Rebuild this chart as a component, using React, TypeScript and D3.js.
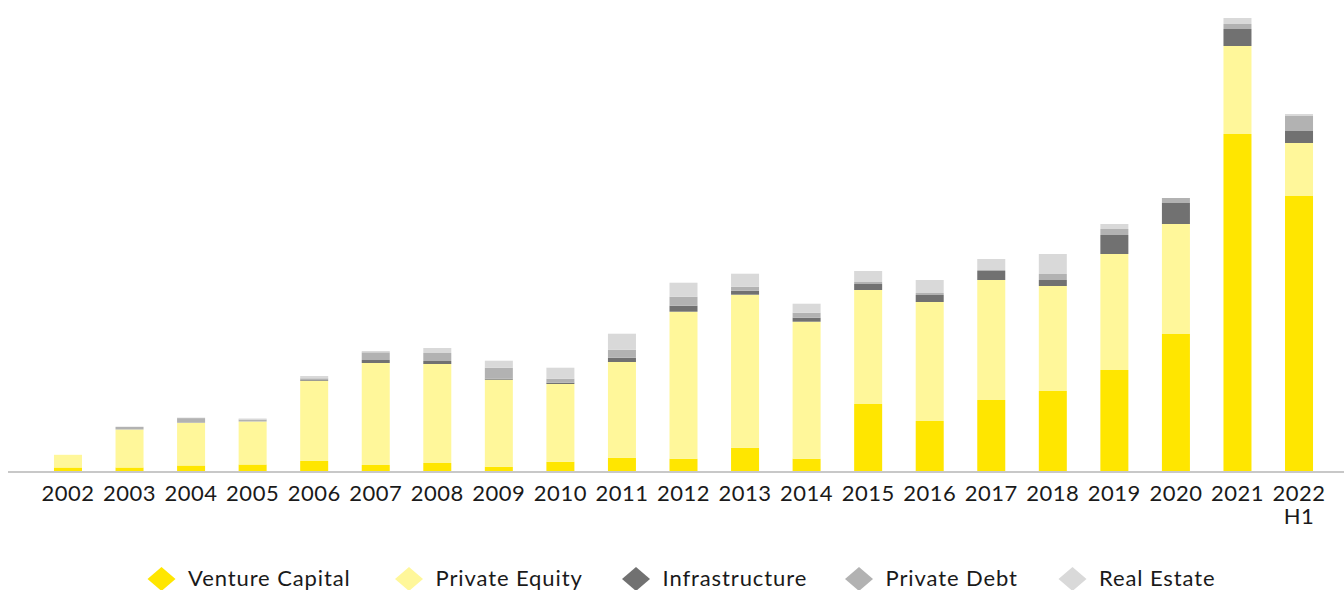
import React from "react";
import * as d3 from "d3";

const years = ["2002","2003","2004","2005","2006","2007","2008","2009","2010","2011","2012","2013","2014","2015","2016","2017","2018","2019","2020","2021","2022 H1"];
const ventureCapital = [3.5,3.5,5.5,6.5,10,6,8,4.3,9.3,13.3,12.3,23.3,12.3,67,50,71,80,101,137,337,275];
const privateEquity = [12.7,38,42.7,43,80.3,102,99,87,77.7,95.7,147,153,137,114,119,120,105,116,110,88,53];
const infrastructure = [0,0,0,0,0.7,3,3,1,1.3,4.3,6,4,4,6,7,9,6,19,21,17,12];
const privateDebt = [0,2.7,4.7,2,1.7,7.7,8,11,4,8,9,4,5,2,2,1,6,6,5,5,15];
const realEstate = [0,0,0.5,1,2.3,1.3,5,7,11,16,14,13,9,11,13,11,20,5,0,6,2];

const seriesNames = ["Venture Capital","Private Equity","Infrastructure","Private Debt","Real Estate"];
const seriesKeys = ["vc","pe","infra","pd","re"];
const colors = ["#FFE600","#FFF79A","#717171","#B2B2B2","#D9D9D9"];

const W = 1344, H = 590;
const baseY = 471;
const font = "Lato, 'Open Sans', sans-serif";

export default function App() {
  const rows = years.map((y, i) => ({
    year: y,
    vc: ventureCapital[i],
    pe: privateEquity[i],
    infra: infrastructure[i],
    pd: privateDebt[i],
    re: realEstate[i],
  }));
  const stack = d3.stack<any>().keys(seriesKeys)(rows);
  const x = d3.scaleBand<string>().domain(years).range([37.2, 1329.8]).paddingInner(0.545).paddingOuter(0.2725);
  const y = d3.scaleLinear().domain([0, 471]).range([baseY, 0]);

  const legendCenters = [161.5, 409, 636, 859, 1072.5];

  return (
    <svg width={W} height={H} style={{ position: "absolute", left: 0, top: 0, background: "#fff" }}>
      <rect x={0} y={0} width={W} height={H} fill="#fff" />
      {stack.map((s, si) => (
        <g key={s.key} fill={colors[si]}>
          {s.map((d, i) => {
            const h = y(d[0]) - y(d[1]);
            if (h <= 0) return null;
            return <rect key={i} x={x(years[i])} y={y(d[1])} width={x.bandwidth()} height={h} />;
          })}
        </g>
      ))}
      <line x1={8} x2={W} y1={472} y2={472} stroke="#C8C8C8" strokeWidth={2} />
      {years.map((yr) => {
        const parts = yr.split(" ");
        const cx = (x(yr) as number) + x.bandwidth() / 2;
        return (
          <g key={yr}>
            {parts.map((p, j) => (
              <text key={j} x={cx} y={500.5 + j * 23} textAnchor="middle" fontFamily={font} fontSize={22} letterSpacing={0.5} fill="#1a1a1a">{p}</text>
            ))}
          </g>
        );
      })}
      {seriesNames.map((n, i) => {
        const cx = legendCenters[i];
        const cy = 579;
        const r = 14;
        return (
          <g key={n}>
            <path d={`M${cx - r},${cy} L${cx},${cy - 12} L${cx + r},${cy} L${cx},${cy + 12} Z`} fill={colors[i]} />
            <text x={cx + 26.5} y={586} fontFamily={font} fontSize={22} letterSpacing={0.9} fill="#1a1a1a">{n}</text>
          </g>
        );
      })}
    </svg>
  );
}
